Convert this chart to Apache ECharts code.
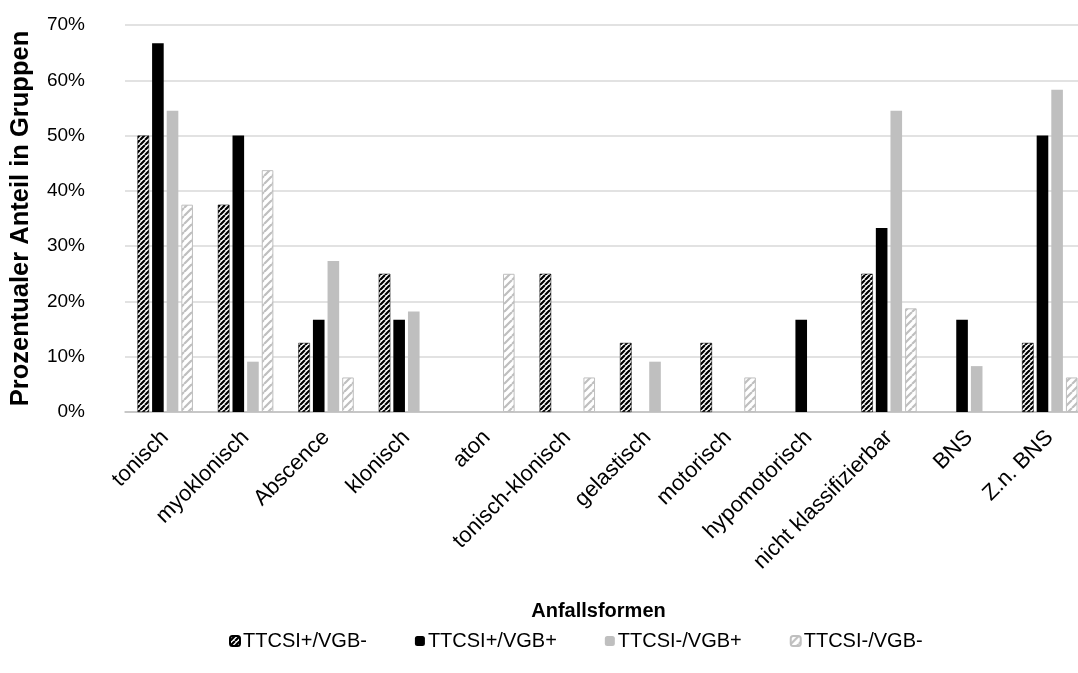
<!DOCTYPE html>
<html><head><meta charset="utf-8">
<script src="https://cdn.jsdelivr.net/npm/echarts@6/dist/echarts.min.js"></script>
<style>html,body{margin:0;padding:0;background:#fff;overflow:hidden}#c{width:1100px;height:673px}</style>
</head><body><div id="c"></div>
<script>
const categories = ['tonisch','myoklonisch','Abscence','klonisch','aton','tonisch-klonisch','gelastisch','motorisch','hypomotorisch','nicht klassifizierbar','BNS','Z.n. BNS'];
const seriesNames = ['TTCSI+/VGB-','TTCSI+/VGB+','TTCSI-/VGB+','TTCSI-/VGB-'];
const s1 = [50, 37.5, 12.5, 25, 0, 25, 12.5, 12.5, 0, 25, 0, 12.5];
const s2 = [66.7, 50, 16.7, 16.7, 0, 0, 0, 0, 16.7, 33.3, 16.7, 50];
const s3 = [54.5, 9.1, 27.3, 18.2, 0, 0, 9.1, 0, 0, 54.5, 8.3, 58.3];
const s4 = [37.5, 43.75, 6.25, 0, 25, 6.25, 0, 6.25, 0, 18.75, 0, 6.25];
const yTicks = [0,10,20,30,40,50,60,70];

function hatch(size, stripe, bg, lw){
  const c = document.createElement('canvas');
  c.width = size; c.height = size;
  const g = c.getContext('2d');
  g.fillStyle = bg; g.fillRect(0,0,size,size);
  g.strokeStyle = stripe; g.lineWidth = lw;
  g.beginPath();
  for (let k=-1;k<=1;k++){
    g.moveTo(k*size, size); g.lineTo(k*size+size, 0);
  }
  g.stroke();
  return c;
}
const pat1 = {image: hatch(5, '#000', '#fff', 2.2), repeat: 'repeat'};
const pat4 = {image: hatch(8, '#bfbfbf', '#fff', 2.2), repeat: 'repeat'};

const font = 'Liberation Sans, Arial, sans-serif';
const chart = echarts.init(document.getElementById('c'));
const hideZero = arr => arr.map(v => v === 0 ? '-' : v);
const mk = (name, data, style) => ({name, type:'bar', data: hideZero(data), barGap:'26%', barCategoryGap:'31%', itemStyle: style});
chart.setOption({
  animation:false,
  textStyle:{fontFamily:font},
  grid:{left:125, right:10, top:25, bottom:261, containLabel:false},
  legend:{
    left:224, bottom:17, itemWidth:10, itemHeight:10, itemGap:48,
    textStyle:{fontSize:20, color:'#000', fontFamily:font, padding:[0,0,0,-2]},
    data: seriesNames
  },
  xAxis:{
    type:'category', data:categories,
    name:'Anfallsformen', nameLocation:'middle', nameGap:189,
    nameTextStyle:{fontSize:20, fontWeight:'bold', color:'#000', verticalAlign:'top', padding:[0,18,0,0]},
    axisTick:{show:false},
    axisLine:{lineStyle:{color:'#bfbfbf', width:1.5}},
    axisLabel:{rotate:45, fontSize:22, color:'#000', margin:22, interval:0}
  },
  yAxis:{
    type:'value', min:0, max:70, interval:10,
    name:'Prozentualer Anteil in Gruppen', nameLocation:'middle', nameGap:91,
    nameTextStyle:{fontSize:25.5, fontWeight:'bold', color:'#000'},
    axisLabel:{fontSize:19, color:'#000', margin:40, formatter: v => v + '%'},
    splitLine:{lineStyle:{color:'#d9d9d9', width:1.5}},
    axisLine:{show:false}, axisTick:{show:false}
  },
  series:[
    mk(seriesNames[0], s1, {color:pat1, borderColor:'#000', borderWidth:0.5}),
    mk(seriesNames[1], s2, {color:'#000'}),
    mk(seriesNames[2], s3, {color:'#bfbfbf'}),
    mk(seriesNames[3], s4, {color:pat4, borderColor:'#bfbfbf', borderWidth:1})
  ]
});
</script></body></html>
